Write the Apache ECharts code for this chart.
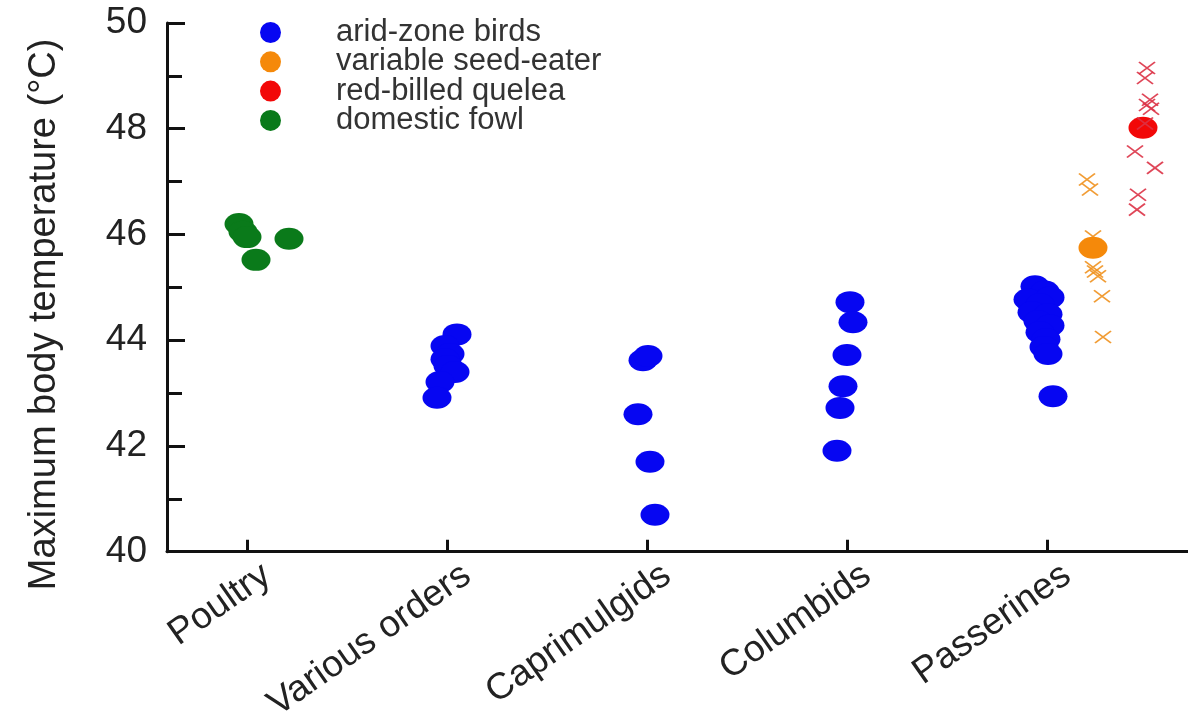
<!DOCTYPE html>
<html>
<head>
<meta charset="utf-8">
<script src="https://cdn.jsdelivr.net/npm/echarts@6/dist/echarts.min.js"></script>
<style>
  html, body { margin: 0; padding: 0; background: #fff; }
  #chart { width: 1188px; height: 725px; }
</style>
</head>
<body>
<div id="chart"></div>
<script>
// ---- data (x = category index 1..5 plus small horizontal scatter) ----
const categories = ['Poultry', 'Various orders', 'Caprimulgids', 'Columbids', 'Passerines'];
const categoryPositions = [1, 2, 3, 4, 5];
const yTickValues = [40, 42, 44, 46, 48, 50];

const domesticFowl = [[0.96, 46.2], [0.98, 46.05], [1.0, 45.95], [1.21, 45.92], [1.045, 45.52]];

const aridZoneBirds = [
  // Various orders
  [2.05, 44.11], [1.99, 43.89], [2.015, 43.74], [1.99, 43.64], [2.005, 43.51], [2.04, 43.40], [1.965, 43.21], [1.95, 42.91],
  // Caprimulgids
  [2.98, 43.62], [3.005, 43.70], [2.955, 42.60], [3.015, 41.70], [3.04, 40.70],
  // Columbids
  [4.015, 44.72], [4.03, 44.34], [4.0, 43.72], [3.98, 43.13], [3.965, 42.72], [3.95, 41.91],
  // Passerines
  [4.94, 45.02], [4.99, 44.92], [4.905, 44.77], [5.015, 44.81], [4.965, 44.68], [4.925, 44.53], [5.005, 44.49],
  [4.955, 44.36], [5.015, 44.28], [4.965, 44.15], [4.995, 44.02], [4.985, 43.87], [5.005, 43.74], [5.03, 42.94]
];

const seedEaterMean = [[5.23, 45.75]];
const seedEaterIndividuals = [[5.2, 47.04], [5.215, 46.85], [5.23, 45.96], [5.23, 45.38], [5.24, 45.30], [5.255, 45.21], [5.275, 44.83], [5.28, 44.06]];

const queleaMean = [[5.48, 48.02]];
const queleaIndividuals = [[5.5, 49.15], [5.49, 48.96], [5.515, 48.55], [5.5, 48.45], [5.52, 48.38], [5.49, 48.1], [5.44, 47.57], [5.54, 47.26], [5.455, 46.75], [5.45, 46.47]];

const legendNames = ['arid-zone birds', 'variable seed-eater', 'red-billed quelea', 'domestic fowl'];

// ---- styling ----
const FONT = "'Liberation Sans', Arial, Helvetica, sans-serif";
const ELLIPSE = 'path://M1,0A1,1,0,1,1,-1,0A1,1,0,1,1,1,0Z';
const CROSS = 'path://M0,0L10,10M10,0L0,10';
const DOT = [29, 22];
const LABEL_SHIFT = 0.1; // labels sit slightly right of their ticks in the reference

const chart = echarts.init(document.getElementById('chart'));
chart.setOption({
  animation: false,
  backgroundColor: '#ffffff',
  grid: { left: 167, right: 0, top: 23, bottom: 172, containLabel: false },
  legend: {
    orient: 'vertical',
    left: 260,
    top: 17,
    padding: 0,
    itemWidth: 27,
    itemHeight: 21,
    itemGap: -1.7,
    icon: ELLIPSE,
    data: legendNames,
    itemStyle: { opacity: 1 },
    textStyle: { fontFamily: FONT, fontSize: 31, color: '#333', padding: [0, 0, 0, 47] }
  },
  xAxis: {
    type: 'value',
    min: 0.6,
    max: 5.705,
    splitLine: { show: false },
    axisLine: { show: true, onZero: false, lineStyle: { color: '#111', width: 3 } },
    axisTick: { show: true, inside: true, length: 12, customValues: categoryPositions, lineStyle: { color: '#111', width: 3 } },
    axisLabel: {
      customValues: categoryPositions.map(v => v + LABEL_SHIFT),
      formatter: v => categories[Math.round(v - LABEL_SHIFT) - 1] || '',
      rotate: 35,
      margin: 20,
      fontFamily: FONT,
      fontSize: 37,
      color: '#222'
    }
  },
  yAxis: {
    type: 'value',
    min: 40,
    max: 50,
    interval: 2,
    splitLine: { show: false },
    axisLine: { show: true, lineStyle: { color: '#111', width: 3 } },
    axisTick: { show: true, inside: true, length: 18, lineStyle: { color: '#111', width: 3 } },
    minorTick: { show: true, splitNumber: 2, length: 15, lineStyle: { color: '#111', width: 3 } },
    axisLabel: {
      formatter: v => (yTickValues.indexOf(v) >= 0 ? String(v) : ''),
      margin: 20,
      fontFamily: FONT,
      fontSize: 37,
      color: '#222'
    },
    name: 'Maximum body temperature (°C)',
    nameLocation: 'middle',
    nameGap: 103,
    nameRotate: 90,
    nameTextStyle: { fontFamily: FONT, fontSize: 38, color: '#222', padding: [0, 54, 0, 0] }
  },
  series: [
    {
      name: 'variable seed-eater (individuals)',
      type: 'scatter',
      symbol: CROSS,
      symbolSize: [16, 12],
      itemStyle: { color: 'none', borderColor: 'rgba(240,145,30,0.9)', borderWidth: 1.7, opacity: 1 },
      data: seedEaterIndividuals,
      z: 2
    },
    {
      name: 'red-billed quelea (individuals)',
      type: 'scatter',
      symbol: CROSS,
      symbolSize: [16, 12],
      itemStyle: { color: 'none', borderColor: 'rgba(220,50,70,0.9)', borderWidth: 1.7, opacity: 1 },
      data: queleaIndividuals,
      z: 2
    },
    {
      name: 'arid-zone birds',
      type: 'scatter',
      symbol: ELLIPSE,
      symbolSize: DOT,
      itemStyle: { color: '#0606f2', opacity: 1 },
      data: aridZoneBirds,
      z: 3
    },
    {
      name: 'variable seed-eater',
      type: 'scatter',
      symbol: ELLIPSE,
      symbolSize: DOT,
      itemStyle: { color: '#f5890a', opacity: 1 },
      data: seedEaterMean,
      z: 3
    },
    {
      name: 'red-billed quelea',
      type: 'scatter',
      symbol: ELLIPSE,
      symbolSize: DOT,
      itemStyle: { color: '#f20808', opacity: 1 },
      data: queleaMean,
      z: 1
    },
    {
      name: 'domestic fowl',
      type: 'scatter',
      symbol: ELLIPSE,
      symbolSize: DOT,
      itemStyle: { color: '#0a7a1a', opacity: 1 },
      data: domesticFowl,
      z: 3
    }
  ]
});
</script>
</body>
</html>
